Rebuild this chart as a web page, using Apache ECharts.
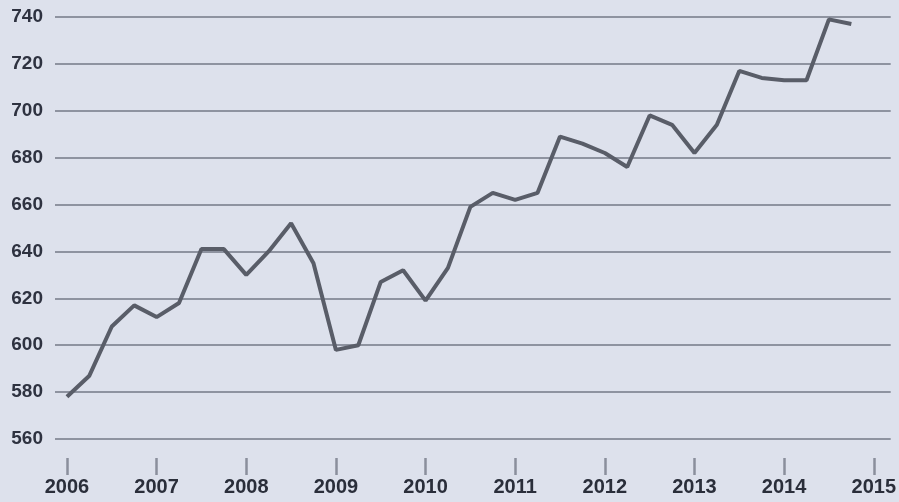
<!DOCTYPE html>
<html>
<head>
<meta charset="utf-8">
<script src="https://cdn.jsdelivr.net/npm/echarts@6/dist/echarts.min.js"></script>
<style>
html,body{margin:0;padding:0;background:#dde1ec;}
#c{width:899px;height:502px;}
</style>
</head>
<body>
<div id="c"></div>
<script>
// Quarterly values, 2006 Q1 .. 2014 Q4
const startYear = 2006;
const values = [
  578, 587, 608, 617,
  612, 618, 641, 641,
  630, 640, 652, 635,
  598, 600, 627, 632,
  619, 633, 659, 665,
  662, 665, 689, 686,
  682, 676, 698, 694,
  682, 694, 717, 714,
  713, 713, 739, 737
];
const yearTicks = [2006, 2007, 2008, 2009, 2010, 2011, 2012, 2013, 2014, 2015];
const yTicks = [560, 580, 600, 620, 640, 660, 680, 700, 720, 740];

const data = values.map((v, i) => [startYear + i / 4, v]);

const chart = echarts.init(document.getElementById('c'));
chart.setOption({
  backgroundColor: '#dde1ec',
  animation: false,
  grid: { left: 55, right: 6, top: 17, bottom: 63 },
  xAxis: {
    type: 'value',
    min: 2005.8665,
    max: 2015.189,
    offset: 19,
    axisLine: { show: false },
    splitLine: { show: false },
    axisTick: {
      show: true, length: 17, customValues: yearTicks,
      lineStyle: { color: '#8a8f9c', width: 2.5 }
    },
    axisLabel: {
      customValues: yearTicks,
      margin: 19,
      color: '#2a2e3a',
      fontFamily: 'Liberation Sans, Arial, sans-serif',
      fontWeight: 'bold',
      fontSize: 20,
      formatter: v => String(Math.round(v))
    }
  },
  yAxis: {
    type: 'value',
    min: 560,
    max: 740,
    interval: 20,
    axisLine: { show: false },
    axisTick: { show: false },
    axisLabel: {
      customValues: yTicks,
      margin: 12,
      color: '#2e3240',
      fontFamily: 'Liberation Sans, Arial, sans-serif',
      fontWeight: 'bold',
      fontSize: 19
    },
    splitLine: { show: true, lineStyle: { color: '#8e93a0', width: 2 } }
  },
  series: [{
    type: 'line',
    data: data,
    symbol: 'none',
    lineStyle: { color: '#595d68', width: 4 },
    z: 3
  }]
});
</script>
</body>
</html>
